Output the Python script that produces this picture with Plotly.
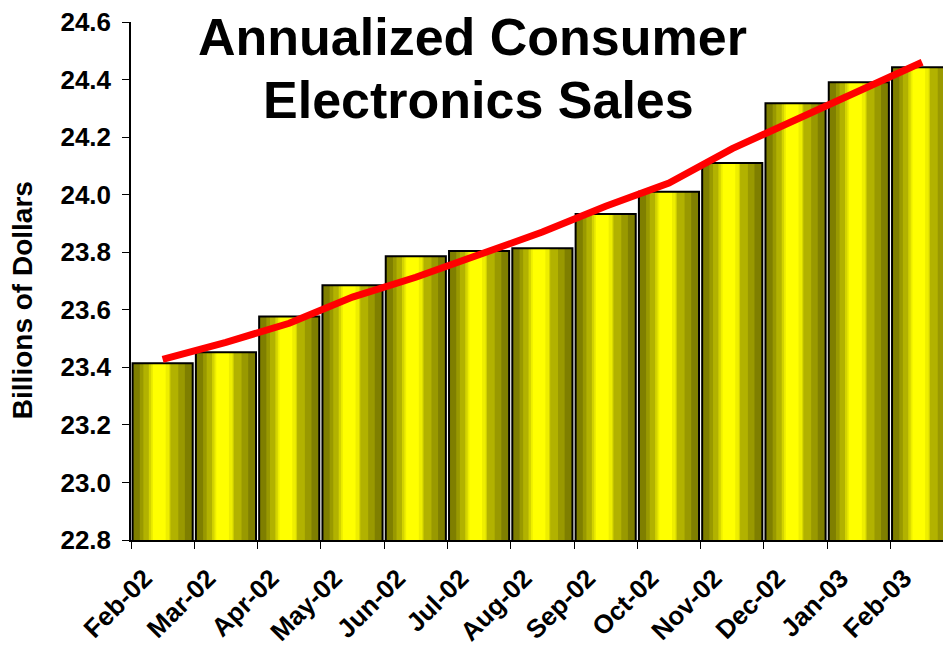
import plotly.graph_objects as go

months = ["Feb-02", "Mar-02", "Apr-02", "May-02", "Jun-02", "Jul-02", "Aug-02",
          "Sep-02", "Oct-02", "Nov-02", "Dec-02", "Jan-03", "Feb-03"]
sales = [23.414, 23.452, 23.577, 23.685, 23.786, 23.804, 23.814,
         23.933, 24.010, 24.110, 24.318, 24.391, 24.443]
trend = [23.428, 23.487, 23.553, 23.644, 23.713, 23.790, 23.870,
         23.960, 24.040, 24.160, 24.260, 24.360, 24.460]
y_ticks = [22.8, 23.0, 23.2, 23.4, 23.6, 23.8, 24.0, 24.2, 24.4, 24.6]

FONT = "Liberation Sans, Arial, sans-serif"
BAR_W = 0.95
# cylinder shading layers: (left fraction, right fraction, colour)
layers = [
    (0.00, 1.00, "#7f7f00"),
    (0.12, 0.87, "#999900"),
    (0.18, 0.76, "#b2b200"),
    (0.27, 0.63, "#d4d400"),
    (0.31, 0.61, "#eeee00"),
    (0.34, 0.55, "#ffff00"),
]

fig = go.Figure()
for lf, rf, col in layers:
    fig.add_trace(go.Bar(
        x=months, y=sales, base=0,
        width=[(rf - lf) * BAR_W] * len(months),
        offset=[-BAR_W / 2 + lf * BAR_W] * len(months),
        marker=dict(color=col, line=dict(width=0)),
        hoverinfo="skip", showlegend=False,
    ))
# outline
fig.add_trace(go.Bar(
    x=months, y=sales, base=0,
    width=[BAR_W] * len(months),
    offset=[-BAR_W / 2] * len(months),
    marker=dict(color="rgba(0,0,0,0)", line=dict(color="black", width=2)),
    showlegend=False, name="Sales",
))
fig.add_trace(go.Scatter(
    x=months, y=trend, mode="lines",
    line=dict(color="#ff0000", width=7),
    showlegend=False, name="Trend",
))

fig.update_layout(
    width=943, height=650,
    margin=dict(l=131, r=0, t=22, b=110),
    barmode="overlay",
    plot_bgcolor="white", paper_bgcolor="white",
    font=dict(family=FONT, color="black"),
    xaxis=dict(
        type="category", range=[-0.5, 12.33],
        showline=True, linecolor="black", linewidth=1.5,
        ticks="outside", tickson="boundaries", ticklen=7, tickcolor="black",
        tickangle=-45, tickfont=dict(family=FONT, size=26, color="black", weight="bold"),
        ticklabelshift=-18, ticklabelstandoff=11,
        showgrid=False, zeroline=False,
    ),
    yaxis=dict(
        range=[22.8, 24.6], tickvals=y_ticks, tickformat=".1f",
        showline=True, linecolor="black", linewidth=1.5,
        ticks="outside", ticklen=7, tickcolor="black",
        tickfont=dict(family=FONT, size=26, color="black", weight="bold"),
        ticklabelstandoff=6,
        showgrid=False, zeroline=False,
    ),
    annotations=[
        dict(text="<b>Annualized Consumer</b>", xref="paper", yref="paper",
             x=0.421, y=0.971, xanchor="center", yanchor="middle", showarrow=False,
             font=dict(family=FONT, size=52, color="black")),
        dict(text="<b>Electronics Sales</b>", xref="paper", yref="paper",
             x=0.428, y=0.849, xanchor="center", yanchor="middle", showarrow=False,
             font=dict(family=FONT, size=52, color="black")),
        dict(text="<b>Billions of Dollars</b>", xref="paper", yref="paper",
             x=(22 - 131) / 812, y=0.463, xanchor="center", yanchor="middle",
             textangle=-90, showarrow=False,
             font=dict(family=FONT, size=28, color="black")),
    ],
)

fig.write_html("out.html")
